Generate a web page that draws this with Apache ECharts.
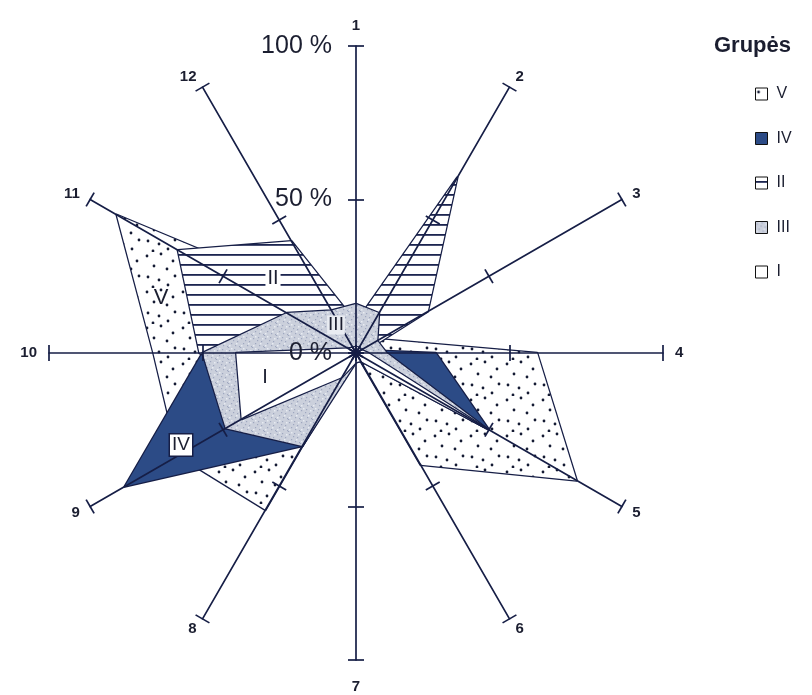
<!DOCTYPE html>
<html>
<head>
<meta charset="utf-8">
<script src="https://cdn.jsdelivr.net/npm/echarts@6/dist/echarts.min.js"></script>
<style>
  html, body { margin: 0; padding: 0; background: #ffffff; }
  #chart { width: 812px; height: 695px; }
</style>
</head>
<body>
<div id="chart"></div>
<script>
// Axis names, clockwise from the top
const axisNames = ['1', '2', '3', '4', '5', '6', '7', '8', '9', '10', '11', '12'];
// Tick labels on axis 1 (0, 50 %, 100 %)
const tickLabels = ['0 %', '50 %', '100 %'];
// Group names, back to front
const groupNames = ['V', 'IV', 'II', 'III', 'I'];

// Shares per axis (1..12), fraction of 100 %
const groupV   = [0.12, 0.12, 0.09, 0.59, 0.83, 0.42, 0.00, 0.59, 0.67, 0.66, 0.90, 0.19];
const groupIV  = [0.05, 0.05, 0.02, 0.26, 0.50, 0.01, 0.02, 0.35, 0.87, 0.50, 0.10, 0.05];
const groupII  = [0.10, 0.66, 0.27, 0.02, 0.03, 0.02, 0.02, 0.05, 0.25, 0.51, 0.67, 0.42];
const groupIII = [0.16, 0.15, 0.08, 0.10, 0.49, 0.03, 0.03, 0.35, 0.49, 0.50, 0.26, 0.16];
const groupI   = [0.02, 0.02, 0.02, 0.04, 0.48, 0.03, 0.03, 0.09, 0.43, 0.39, 0.03, 0.02];

const INK = '#161e46';
const TEXT = '#1b1e30';
const FONT = 'Liberation Sans, Arial, sans-serif';

// ---- fill textures ----
function dotTexture() {
  const c = document.createElement('canvas');
  c.width = 36; c.height = 36;
  const g = c.getContext('2d');
  g.fillStyle = '#ffffff'; g.fillRect(0, 0, 36, 36);
  g.fillStyle = '#141a33';
  [[3, 4], [17, 2], [29, 9], [10, 14], [23, 17], [4, 25], [15, 28], [31, 24], [24, 33], [9, 35]]
    .forEach(function (p) { g.beginPath(); g.arc(p[0], p[1], 1.4, 0, Math.PI * 2); g.fill(); });
  return c;
}
function stripeTexture() {
  const c = document.createElement('canvas');
  c.width = 10; c.height = 10;
  const g = c.getContext('2d');
  g.fillStyle = '#ffffff'; g.fillRect(0, 0, 10, 10);
  g.fillStyle = '#1c2550'; g.fillRect(0, 4, 10, 1.8);
  return c;
}
function grainTexture() {
  const c = document.createElement('canvas');
  c.width = 12; c.height = 12;
  const g = c.getContext('2d');
  g.fillStyle = '#cbd0dc'; g.fillRect(0, 0, 12, 12);
  g.fillStyle = '#9ea7bf';
  [[1, 2], [6, 1], [9, 5], [3, 7], [7, 9], [11, 10], [0, 11], [5, 4]]
    .forEach(function (p) { g.fillRect(p[0], p[1], 1.2, 1.2); });
  g.fillStyle = '#e8ebf2';
  [[3, 0], [10, 2], [1, 9], [8, 7]].forEach(function (p) { g.fillRect(p[0], p[1], 1.5, 1.5); });
  return c;
}

const fills = {
  'V':   { image: dotTexture(), repeat: 'repeat' },
  'IV':  '#2c4b86',
  'II':  { image: stripeTexture(), repeat: 'repeat' },
  'III': { image: grainTexture(), repeat: 'repeat' },
  'I':   '#ffffff'
};
const groupValues = { 'V': groupV, 'IV': groupIV, 'II': groupII, 'III': groupIII, 'I': groupI };

// Radar indicators run counter-clockwise, so feed them as 1, 12, 11, ..., 2
const order = [0, 11, 10, 9, 8, 7, 6, 5, 4, 3, 2, 1];
const indicatorMain = order.map(function (i) {
  const ind = { name: axisNames[i], min: 0, max: 1 };
  if (i === 0) ind.axisLabel = { show: true };
  return ind;
});
const indicatorTicks = order.map(function () { return { name: '', min: 0, max: 1 }; });

const CENTER = [356, 353];
const RADIUS = 307;

const chart = echarts.init(document.getElementById('chart'), null, { renderer: 'canvas' });

const nameFont = { fontSize: 15, fontWeight: 'bold', color: TEXT, fontFamily: FONT };

const option = {
  backgroundColor: '#ffffff',
  animation: false,
  title: {
    text: 'Grupės',
    left: 714, top: 35, padding: 0,
    textStyle: { fontSize: 22, fontWeight: 'bold', color: TEXT, fontFamily: FONT }
  },
  legend: {
    orient: 'vertical',
    left: 750, top: 81,
    itemWidth: 12, itemHeight: 12, itemGap: 28.5,
    icon: 'rect',
    selectedMode: false,
    textStyle: { fontSize: 16, color: TEXT, lineHeight: 16, padding: [0, 0, 0, 4], fontFamily: FONT },
    data: groupNames.map(function (n) {
      return { name: n, itemStyle: { color: fills[n], borderColor: '#111111', borderWidth: 1 } };
    })
  },
  radar: [
    {
      center: CENTER, radius: RADIUS, startAngle: 90, splitNumber: 2, shape: 'polygon',
      indicator: indicatorMain,
      nameGap: 12,
      axisName: Object.assign({}, nameFont, {
        formatter: function (name) {
          if (name === '1') return '{up|1}';
          if (name === '7') return '{dn|7}';
          return name;
        },
        rich: {
          up: Object.assign({}, nameFont, { padding: [0, 0, 1, 0] }),
          dn: Object.assign({}, nameFont, { padding: [7, 0, 0, 0] })
        }
      }),
      axisLine: { lineStyle: { color: INK, width: 1.7 } },
      axisTick: { show: true, length: 8, lineStyle: { color: INK, width: 1.7 } },
      axisLabel: {
        show: false, margin: 24, fontSize: 25, color: TEXT, fontFamily: FONT,
        formatter: function (v) { return tickLabels[Math.round(v * 2)]; }
      },
      splitLine: { show: false },
      splitArea: { show: false },
      z: 5
    },
    {
      // second set of ticks on the opposite side of each axis, so they cross it
      center: CENTER, radius: RADIUS, startAngle: 90, splitNumber: 2, shape: 'polygon',
      indicator: indicatorTicks,
      axisName: { show: false },
      axisLine: { show: false },
      axisTick: { show: true, length: -8, lineStyle: { color: INK, width: 1.7 } },
      axisLabel: { show: false },
      splitLine: { show: false },
      splitArea: { show: false },
      z: 5
    }
  ],
  series: groupNames.map(function (n) {
    return {
      type: 'radar',
      radarIndex: 0,
      name: n,
      symbol: 'none',
      z: 2,
      lineStyle: { color: INK, width: 2.5 },
      itemStyle: { color: INK },
      areaStyle: { color: fills[n], opacity: 1 },
      data: [{ name: n, value: order.map(function (i) { return groupValues[n][i]; }) }]
    };
  }),
  graphic: [
    { type: 'text', z: 20, x: 273, y: 278, style: { text: 'II', font: '20px ' + FONT, fill: TEXT, align: 'center', verticalAlign: 'middle', backgroundColor: '#ffffff', padding: [0, 2] } },
    { type: 'text', z: 20, x: 336, y: 325, style: { text: 'III', font: '19px ' + FONT, fill: TEXT, align: 'center', verticalAlign: 'middle', backgroundColor: '#e9ecf2', padding: [0, 1] } },
    { type: 'text', z: 20, x: 161, y: 298, style: { text: 'V', font: '22px ' + FONT, fill: TEXT, align: 'center', verticalAlign: 'middle' } },
    { type: 'text', z: 20, x: 181, y: 445, style: { text: 'IV', font: '19px ' + FONT, fill: TEXT, align: 'center', verticalAlign: 'middle', backgroundColor: '#ffffff', borderColor: INK, borderWidth: 1.5, padding: [1, 2] } },
    { type: 'text', z: 20, x: 265, y: 377, style: { text: 'I', font: '20px ' + FONT, fill: TEXT, align: 'center', verticalAlign: 'middle' } }
  ]
};

chart.setOption(option);
</script>
</body>
</html>
